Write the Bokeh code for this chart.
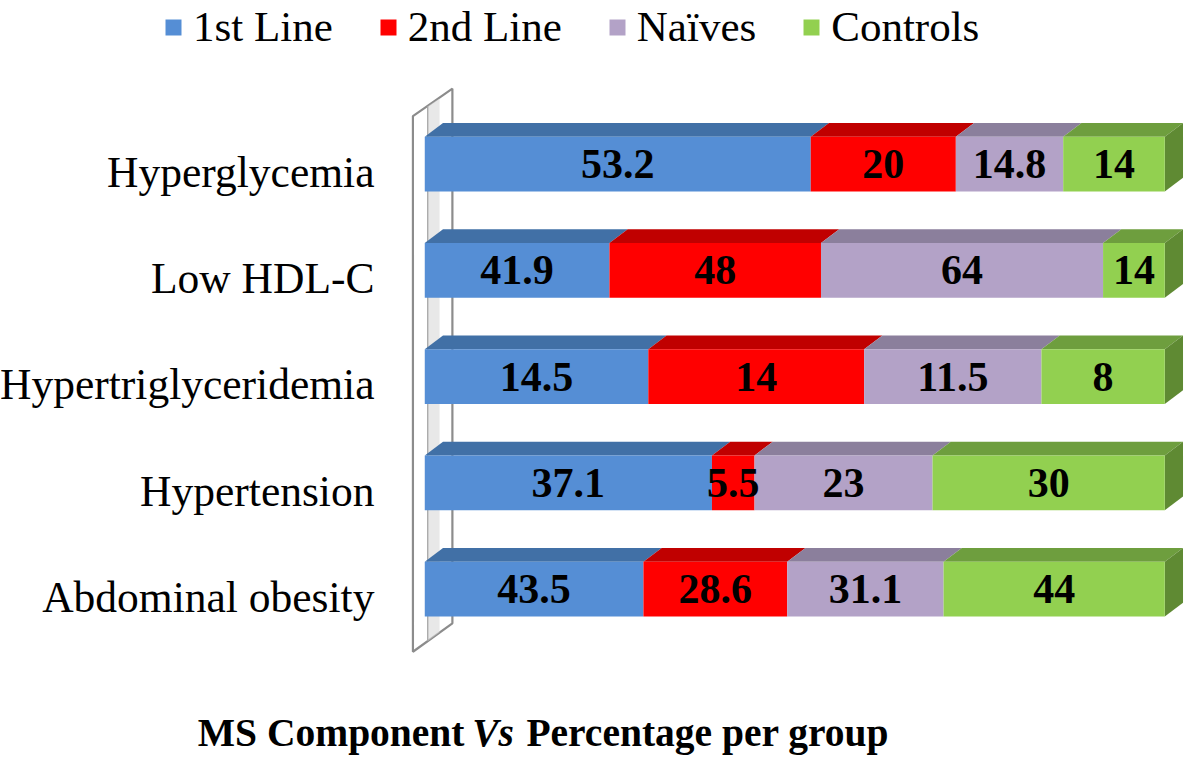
from bokeh.plotting import figure
from bokeh.models import ColumnDataSource, Range1d, Legend, LegendItem
from bokeh.core.properties import value
from bokeh.embed import file_html
from bokeh.resources import INLINE

# ---------------- data ----------------
categories = ["Hyperglycemia", "Low HDL-C", "Hypertriglyceridemia", "Hypertension", "Abdominal obesity"]
first_line = [53.2, 41.9, 14.5, 37.1, 43.5]
second_line = [20, 48, 14, 5.5, 28.6]
naives = [14.8, 64, 11.5, 23, 31.1]
controls = [14, 14, 8, 30, 44]
series_names = ["1st Line", "2nd Line", "Naïves", "Controls"]
title_parts = ["MS Component", "Vs", "Percentage per group"]

# ---------------- styling / geometry ----------------
front_colors = ["#558ED5", "#FF0000", "#B3A2C7", "#92D050"]
top_colors = ["#4170A6", "#C00000", "#8B7F9C", "#6E9E3E"]
side_color = "#5F8A33"
FONT = value("Liberation Serif")

W, H = 1184, 758
SX, SY = W / 1200, H / 774          # reference layout -> figure
PX_PER_PCT = 7.5 * SX               # horizontal pixels per percent
ROW_PX = 108.5 * SY                 # vertical pixels per category row
X0_FIG = 430 * SX                   # figure x where 0 % sits
ROW0_FIG = 167 * SY                 # figure y of the first row centre

x_range = Range1d(-X0_FIG / PX_PER_PCT, (W - X0_FIG) / PX_PER_PCT)
y_range = Range1d((H - ROW0_FIG) / ROW_PX, -ROW0_FIG / ROW_PX)   # reversed: rows go down


def X(ref_x):
    return (ref_x * SX - X0_FIG) / PX_PER_PCT


def Y(ref_y):
    return (ref_y * SY - ROW0_FIG) / ROW_PX


bar_h = 56 / 108.5
dx = 18.5 / 7.5
dy = 14 / 108.5

p = figure(width=W, height=H, x_range=x_range, y_range=y_range,
           output_backend="svg", toolbar_location=None,
           x_axis_type=None, y_axis_type=None, min_border=0)
p.grid.visible = False
p.outline_line_color = None
p.background_fill_color = "white"

# ---------------- wall ----------------
p.patch([X(418), X(458), X(458), X(418)],
        [Y(118), Y(90), Y(636), Y(665)],
        fill_color="white", line_color="#8C8C8C", line_width=2.2)
p.patch([X(433), X(445), X(445), X(433)],
        [Y(108), Y(100), Y(645), Y(654)],
        fill_color="#D9D9D9", fill_alpha=0.6, line_color=None)
p.segment(x0=[X(433)], y0=[Y(108)], x1=[X(433)], y1=[Y(654)],
          line_color="#A6A6A6", line_width=1.3)

# ---------------- bars ----------------
rows = list(range(len(categories)))
values = [first_line, second_line, naives, controls]
totals = [sum(v[i] for v in values) for i in rows]
pcts = [[v[i] / totals[i] * 100 for i in rows] for v in values]

cum = [0.0] * len(rows)
front_renderers = []
label_sources = []
for g, pc in enumerate(pcts):
    left = cum[:]
    right = [left[i] + pc[i] for i in rows]
    cum = right
    # top faces
    xs, ys = [], []
    for i in rows:
        yt = rows[i] - bar_h / 2
        xs.append([left[i], right[i], right[i] + dx, left[i] + dx])
        ys.append([yt, yt, yt - dy, yt - dy])
    p.patches(xs, ys, fill_color=top_colors[g], line_color=None)
    # right side face for the last series
    if g == len(pcts) - 1:
        sx, sy = [], []
        for i in rows:
            yt = rows[i] - bar_h / 2
            yb = rows[i] + bar_h / 2
            sx.append([right[i], right[i] + dx, right[i] + dx, right[i]])
            sy.append([yt, yt - dy, yb - dy, yb])
        p.patches(sx, sy, fill_color=side_color, line_color=None)
    src = ColumnDataSource(dict(
        y=rows, left=left, right=right,
        mid=[(left[i] + right[i]) / 2 for i in rows],
        label=[f"{values[g][i]:g}" for i in rows],
    ))
    r = p.hbar(y="y", left="left", right="right", height=bar_h, source=src,
               fill_color=front_colors[g], line_color=None)
    front_renderers.append(r)
    label_sources.append(src)

for src in label_sources:
    p.text(x="mid", y="y", text="label", source=src,
           text_font=FONT, text_font_style="bold", text_font_size="42px",
           text_color="black", text_align="center", text_baseline="middle")

# ---------------- category labels ----------------
cat_src = ColumnDataSource(dict(x=[X(379)] * len(rows),
                                y=[r_ + 8 / 108.5 for r_ in rows],
                                t=categories))
p.text(x="x", y="y", text="t", source=cat_src, text_font=FONT,
       text_font_size="43.5px", text_color="black",
       text_align="right", text_baseline="middle")

# ---------------- legend ----------------
legend = Legend(items=[LegendItem(label=series_names[g], renderers=[front_renderers[g]])
                       for g in range(4)],
                orientation="horizontal", location=(163, 707),
                label_text_font="Liberation Serif", label_text_font_size="43px",
                label_text_color="black",
                glyph_width=20, glyph_height=20, label_standoff=10, spacing=45,
                padding=0, margin=0, border_line_color=None,
                background_fill_alpha=0)
p.add_layout(legend)

# ---------------- title ----------------
ty = Y(748)
p.text(x=[X(200)], y=[ty], text=[title_parts[0]], text_font=FONT,
       text_font_style="bold", text_font_size="39.5px", text_align="left",
       text_baseline="middle")
p.text(x=[X(478)], y=[ty], text=[title_parts[1]], text_font=FONT,
       text_font_style="bold italic", text_font_size="39.5px", text_align="left",
       text_baseline="middle")
p.text(x=[X(533)], y=[ty], text=[title_parts[2]], text_font=FONT,
       text_font_style="bold", text_font_size="39.5px", text_align="left",
       text_baseline="middle")

open("out.html", "w").write(file_html(p, INLINE))
